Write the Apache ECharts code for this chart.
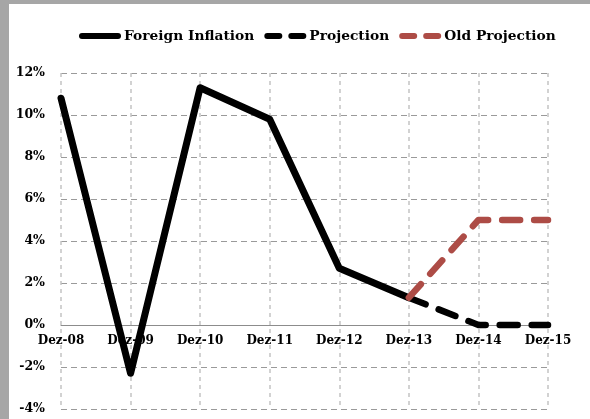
<!DOCTYPE html>
<html>
<head>
<meta charset="utf-8">
<script src="https://cdn.jsdelivr.net/npm/echarts@6/dist/echarts.min.js"></script>
<style>
  html, body { margin: 0; padding: 0; width: 590px; height: 419px; background: #a6a6a6; overflow: hidden; }
  #chart { position: absolute; left: 9px; top: 4px; width: 581px; height: 415px; background: #ffffff; }
</style>
</head>
<body>
<div id="chart"></div>
<script>
// Year-end labels on the category axis
const categories = ['Dez-08', 'Dez-09', 'Dez-10', 'Dez-11', 'Dez-12', 'Dez-13', 'Dez-14', 'Dez-15'];
// Observed foreign inflation, % (ends at Dez-13)
const foreignInflation = [10.8, -2.3, 11.3, 9.8, 2.7, 1.3, null, null];
// Current projection, % (starts from the last observation)
const projection = [null, null, null, null, null, 1.3, 0, 0];
// Previous projection, %
const oldProjection = [null, null, null, null, null, 1.3, 5, 5];
// Value-axis range and step, %
const yMin = -4, yMax = 12, yStep = 2;

const font = '"DejaVu Serif", serif';
const gridTop = 69, gridBottom = 10, chartHeight = 415;
const plotHeight = chartHeight - gridTop - gridBottom;
// category axis sits on the zero line of the value axis
const zeroOffset = -((0 - yMin) / (yMax - yMin)) * plotHeight;

// legend glyphs: one solid rounded bar, or two rounded dashes
const solidIcon = 'path://M3,0h36a3,3 0 0 1 0,6h-36a3,3 0 0 1 0,-6z';
const dashIcon = 'path://M3,0h12a3,3 0 0 1 0,6h-12a3,3 0 0 1 0,-6z M27,0h12a3,3 0 0 1 0,6h-12a3,3 0 0 1 0,-6z';

const chart = echarts.init(document.getElementById('chart'), null, { renderer: 'canvas' });

chart.setOption({
  animation: false,
  backgroundColor: '#ffffff',
  legend: {
    top: 20,
    left: 65,
    itemWidth: 44,
    itemHeight: 6,
    itemGap: 10,
    textStyle: { fontFamily: font, fontWeight: 'bold', fontSize: 13.8, color: '#000', padding: [0, 0, 0, -3] },
    data: [
      { name: 'Foreign Inflation', icon: solidIcon },
      { name: 'Projection', icon: dashIcon },
      { name: 'Old Projection', icon: dashIcon }
    ]
  },
  grid: { left: 52, right: 42, top: gridTop, bottom: gridBottom, containLabel: false },
  xAxis: {
    type: 'category',
    data: categories,
    boundaryGap: false,
    position: 'bottom',
    offset: zeroOffset,
    axisLine: { onZero: false, lineStyle: { color: '#8c8c8c', width: 1 } },
    axisTick: { show: false },
    axisLabel: { fontFamily: font, fontWeight: 'bold', fontSize: 12, color: '#000', margin: 10 },
    splitLine: { show: true, lineStyle: { color: '#c4c4c4', type: [4, 4], width: 1.5 } }
  },
  yAxis: {
    type: 'value',
    min: yMin,
    max: yMax,
    interval: yStep,
    axisLine: { show: false },
    axisTick: { show: false },
    axisLabel: { formatter: '{value}%', fontFamily: font, fontWeight: 'bold', fontSize: 12.5, color: '#000', margin: 16 },
    splitLine: { show: true, lineStyle: { color: '#9a9a9a', type: [6, 4], width: 1 } }
  },
  series: [
    {
      name: 'Foreign Inflation',
      type: 'line',
      data: foreignInflation,
      symbol: 'none',
      lineStyle: { color: '#000', width: 7, cap: 'round', join: 'round' },
      itemStyle: { color: '#000' },
      z: 3
    },
    {
      name: 'Projection',
      type: 'line',
      data: projection,
      symbol: 'none',
      lineStyle: { color: '#000', width: 6.5, type: [18, 14], cap: 'round', join: 'round' },
      itemStyle: { color: '#000' },
      z: 2
    },
    {
      name: 'Old Projection',
      type: 'line',
      data: oldProjection,
      symbol: 'none',
      lineStyle: { color: '#ad4c46', width: 6.5, type: [18, 14], cap: 'round', join: 'round' },
      itemStyle: { color: '#ad4c46' },
      z: 4
    }
  ]
});
</script>
</body>
</html>
